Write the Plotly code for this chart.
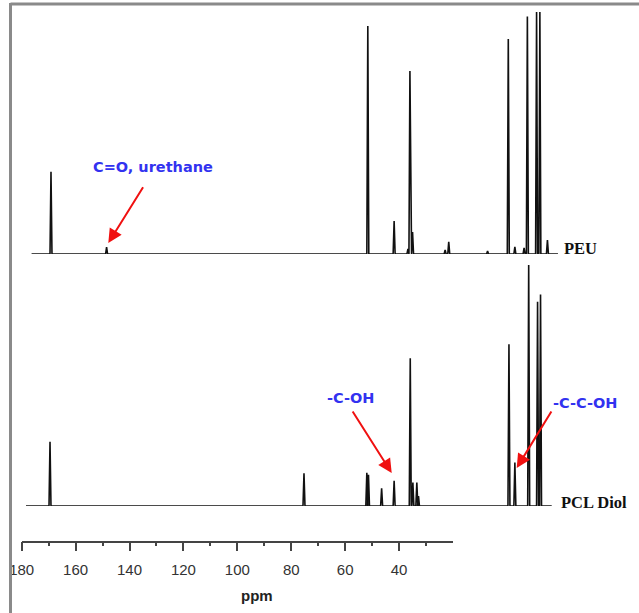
import plotly.graph_objects as go

W, H = 639, 613

# 13C NMR peak lists: chemical shift (ppm) and relative intensity (%)
peu_ppm = [173.3, 156.4, 77.0, 69.0, 64.8, 64.2, 63.4, 53.5, 52.4, 40.6,
           34.3, 32.3, 29.5, 28.5, 25.7, 24.7, 22.4]
peu_int = [34.0, 2.8, 94.2, 13.6, 2.1, 75.6, 9.1, 1.7, 5.0, 1.2,
           88.8, 2.9, 2.5, 98.1, 100.0, 100.0, 5.8]
peu_span = [179.2, 19.2]

pcl_ppm = [173.6, 96.4, 77.3, 76.8, 72.8, 69.0, 64.1, 63.3, 62.1, 61.6,
           34.1, 32.3, 28.1, 25.4, 24.5]
pcl_int = [26.7, 13.6, 13.8, 13.0, 7.3, 10.5, 61.3, 9.7, 9.7, 4.1,
           67.1, 18.0, 100.0, 84.8, 87.8]
pcl_span = [180.9, 21.1]

# scale shown under the spectra
axis_range = [180, 20]
major_ticks = [180, 160, 140, 120, 100, 80, 60, 40]
minor_ticks = [170, 150, 130, 110, 90, 70, 50, 30]


def px(x):
    return x / W


def py(y):
    return 1 - y / H


def stick_trace(ppm, inten, span, yaxis, half=0.3):
    """Narrow spike for each resonance on a flat baseline."""
    xs, ys = [span[0]], [0]
    for p, h in sorted(zip(ppm, inten), key=lambda t: -t[0]):
        xs += [p + half, p, p - half]
        ys += [0, h, 0]
    xs.append(span[1])
    ys.append(0)
    return go.Scatter(x=xs, y=ys, mode="lines", xaxis="x2", yaxis=yaxis,
                      line=dict(color="#111111", width=1.6),
                      hoverinfo="skip", showlegend=False, cliponaxis=False)


fig = go.Figure()
fig.add_trace(go.Scatter(x=[180], y=[0], mode="markers", opacity=0,
                         xaxis="x", yaxis="y", showlegend=False,
                         hoverinfo="skip"))
fig.add_trace(stick_trace(peu_ppm, peu_int, peu_span, "y2"))
fig.add_trace(stick_trace(pcl_ppm, pcl_int, pcl_span, "y3"))

axis_font = dict(family="Liberation Sans, Arial, sans-serif", size=15, color="#333333")

fig.update_layout(
    width=W, height=H,
    margin=dict(l=0, r=0, t=0, b=0, autoexpand=False),
    paper_bgcolor="white", plot_bgcolor="rgba(0,0,0,0)",
    xaxis=dict(
        domain=[px(21.7), px(453)], range=axis_range, anchor="y",
        automargin=False,
        showgrid=False, zeroline=False, showline=True,
        linecolor="#444444", linewidth=1.5,
        tickmode="array", tickvals=major_ticks,
        ticktext=[str(t) for t in major_ticks],
        ticks="outside", ticklen=9, tickwidth=1.5, tickcolor="#444444",
        tickfont=axis_font, ticklabelstandoff=6,
        minor=dict(tickmode="array", tickvals=minor_ticks, ticks="outside",
                   ticklen=4, tickwidth=1.5, tickcolor="#444444"),
    ),
    yaxis=dict(domain=[py(540.7), 1], range=[0, 1], visible=False,
               automargin=False),
    xaxis2=dict(domain=[0, 1], range=[188.8, -5.43], anchor="y2",
                visible=False, automargin=False),
    yaxis2=dict(domain=[py(254), 1], range=[0, 100 * 254 / 242],
                visible=False, automargin=False),
    yaxis3=dict(domain=[py(506), py(200)], range=[0, 100 * 306 / 241],
                visible=False, automargin=False),
)

# frame lines
frame = dict(color="#8a8a8a", width=3)
fig.add_shape(type="line", xref="paper", yref="paper",
              x0=px(10.5), x1=px(639), y0=py(4), y1=py(4), line=frame)
fig.add_shape(type="line", xref="paper", yref="paper",
              x0=px(10.5), x1=px(10.5), y0=py(3), y1=py(613), line=frame)


def label(text, x, y, font, xanchor="center"):
    fig.add_annotation(x=px(x), y=py(y), xref="paper", yref="paper",
                       xanchor=xanchor, yanchor="middle", text=text,
                       showarrow=False, font=font)


# axis title
label("<b>ppm</b>", 257, 595,
      dict(family="Liberation Sans, Arial, sans-serif", size=15, color="#222222"))

# spectrum names
name_font = dict(family="Liberation Serif, Times New Roman, serif",
                 size=16.5, color="#111111")
label("<b>PEU</b>", 562, 249, name_font, "left")
label("<b>PCL Diol</b>", 559, 502, name_font, "left")

# assignments
blue = dict(family="DejaVu Sans, Arial, sans-serif", size=14.5, color="#3232f0")
for txt, x, y in [("C=O, urethane", 153, 166.7),
                  ("-C-OH", 350.5, 397.7),
                  ("-C-C-OH", 585, 402.7)]:
    label("<b>%s</b>" % txt, x, y, blue)

arrows = [((144, 185.7), (108.3, 243)),
          ((351.7, 410), (391.7, 473)),
          ((552.3, 410), (516.7, 468))]
for (tx, ty), (hx, hy) in arrows:
    fig.add_annotation(x=px(hx), y=py(hy), xref="paper", yref="paper",
                       ax=tx - hx, ay=ty - hy, text="",
                       showarrow=True, arrowhead=2, arrowsize=1.4,
                       arrowwidth=2, arrowcolor="#f01010", standoff=0)

fig.write_html("out.html")
